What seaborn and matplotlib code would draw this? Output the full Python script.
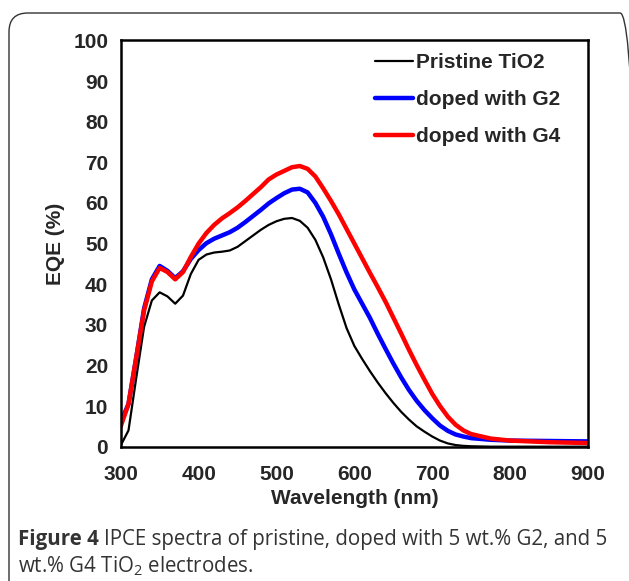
import numpy as np
import pandas as pd
import seaborn as sns
import matplotlib.pyplot as plt
from matplotlib.patches import FancyBboxPatch

# wavelength (nm)
wavelength = [300, 310, 320, 330, 340, 350, 360, 370, 380, 390,
              400, 410, 420, 430, 440, 450, 460, 470, 480, 490,
              500, 510, 520, 530, 540, 550, 560, 570, 580, 590,
              600, 610, 620, 630, 640, 650, 660, 670, 680, 690,
              700, 710, 720, 730, 740, 750, 775, 800, 850, 900]

pristine = [0.3, 4, 17, 29.5, 36, 38, 37, 35.2, 37.2, 42.5,
            46.0, 47.3, 47.8, 48.0, 48.3, 49.2, 50.6, 52, 53.4, 54.6,
            55.5, 56.1, 56.3, 55.6, 53.9, 50.9, 46.6, 41.2, 35.0, 29.2,
            24.8, 21.6, 18.6, 15.8, 13.2, 10.8, 8.6, 6.7, 5.0, 3.7,
            2.5, 1.5, 0.8, 0.4, 0.2, 0.1, 0, 0, 0, 0]

g2 = [6, 10.5, 22, 34, 41.2, 44.5, 43.3, 41.5, 43.2, 46.2,
      48.4, 50.1, 51.2, 52, 52.8, 53.9, 55.3, 56.8, 58.3, 59.9,
      61.2, 62.4, 63.3, 63.5, 62.6, 60.0, 56.6, 52.3, 47.5, 42.9,
      38.7, 35.2, 31.7, 27.8, 24.1, 20.5, 17.1, 14.0, 11.3, 9.0,
      7.0, 5.2, 3.9, 3.0, 2.5, 2.1, 1.7, 1.5, 1.4, 1.3]

g4 = [5, 10.5, 22, 33.5, 40.7, 44, 43, 41.2, 43, 46.7,
      50.0, 52.6, 54.6, 56.2, 57.5, 58.9, 60.5, 62.2, 63.9, 65.8,
      67.0, 67.9, 68.8, 69.1, 68.4, 66.5, 63.6, 60.5, 57.2, 53.6,
      50.0, 46.4, 42.8, 39.3, 35.7, 31.8, 27.9, 23.9, 20.1, 16.5,
      13.0, 10.0, 7.4, 5.4, 4.0, 3.1, 2.0, 1.5, 1.1, 0.9]

labels = ["Pristine TiO2", "doped with G2", "doped with G4"]
colors = ["black", "#0000ff", "#ff0000"]
widths = [1.6, 3.2, 3.2]

sns.set_style("white")
plt.rcParams['font.family'] = ['Liberation Sans', 'DejaVu Sans']

fig = plt.figure(figsize=(6.29, 5.81), dpi=100)
ax = fig.add_axes([0.1919, 0.2312, 0.7429, 0.6991])

# outer rounded frame around the figure
frame = FancyBboxPatch((9 / 629, -0.1), 630 / 629, (581 - 13) / 581 + 0.1,
                       boxstyle="round,pad=0,rounding_size=0.03",
                       transform=fig.transFigure, fill=False,
                       edgecolor="#333333", linewidth=1.0, clip_on=False,
                       mutation_aspect=629 / 581)
fig.patches.append(frame)

for series, lab, col, lw in zip([pristine, g2, g4], labels, colors, widths):
    df = pd.DataFrame({"Wavelength": wavelength, "EQE": series})
    sns.lineplot(data=df, x="Wavelength", y="EQE", ax=ax, color=col,
                 linewidth=lw, label=lab, solid_joinstyle="round",
                 solid_capstyle="round")

ax.set_xlim(300, 900)
ax.set_ylim(0, 100)
ax.set_xticks(np.arange(300, 901, 100))
ax.set_yticks(np.arange(0, 101, 10))
ax.tick_params(direction="in", length=6, width=1.5, labelsize=15, pad=9)
ax.tick_params(axis="x", pad=13)
for lbl in ax.get_xticklabels() + ax.get_yticklabels():
    lbl.set_fontweight("bold")
for sp in ax.spines.values():
    sp.set_visible(True)
    sp.set_color("black")
    sp.set_linewidth(1.8)

ax.set_xlabel("Wavelength (nm)", fontsize=15, fontweight="bold", labelpad=4)
ax.set_ylabel("EQE (%)", fontsize=15, fontweight="bold", labelpad=6)

leg = ax.legend(loc="upper left", bbox_to_anchor=(0.545, 0.968), frameon=False,
                handlelength=1.8, handletextpad=0.15,
                labelspacing=0.85, borderpad=0, borderaxespad=0,
                prop={"weight": "bold", "size": 15})

# caption
cap_color = "#333333"
cap_font = ["Open Sans", "DejaVu Sans"]
cap_size = 14.8
t1 = fig.text(18 / 629, 1 - 540 / 581, "Figure 4", fontsize=cap_size,
              fontweight="bold", color=cap_color, family=cap_font, va="center")
fig.canvas.draw()
bb = t1.get_window_extent()
x2 = bb.x1 / fig.bbox.width + 5 / 629
fig.text(x2, 1 - 540 / 581,
         "IPCE spectra of pristine, doped with 5 wt.% G2, and 5",
         fontsize=cap_size, color=cap_color, family=cap_font, va="center")
fig.text(18 / 629, 1 - 566 / 581,
         r"wt.% G4 TiO$_\mathregular{2}$ electrodes.",
         fontsize=cap_size, color=cap_color, family=cap_font, va="center")

fig.savefig("out.png", dpi=100)
